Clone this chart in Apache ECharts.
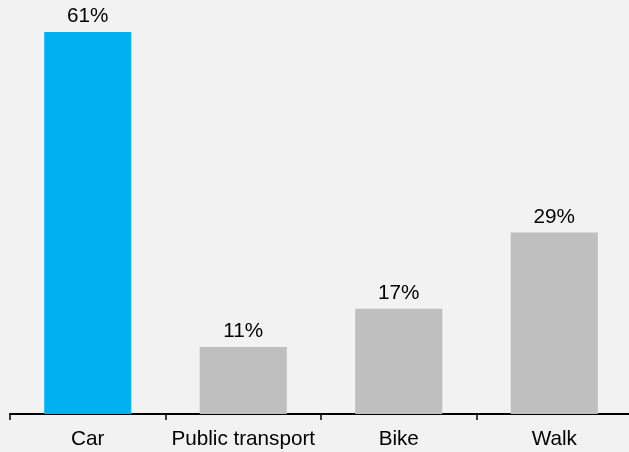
<!DOCTYPE html>
<html>
<head>
<meta charset="utf-8">
<script src="https://cdn.jsdelivr.net/npm/echarts@6/dist/echarts.min.js"></script>
<style>
  html, body { margin: 0; padding: 0; background: #f2f2f2; }
  #chart { width: 629px; height: 452px; }
</style>
</head>
<body>
<div id="chart"></div>
<script>
// share of trips by mode
var categories = ['Car', 'Public transport', 'Bike', 'Walk'];
var shares = [61, 10.7, 16.8, 29];
var barColors = ['#00b0f0', '#bfbfbf', '#bfbfbf', '#bfbfbf'];

var chart = echarts.init(document.getElementById('chart'));
var option = {
  backgroundColor: '#f2f2f2',
  animation: false,
  grid: { left: 10, width: 622, top: 32, bottom: 38, outerBoundsMode: 'none' },
  xAxis: {
    type: 'category',
    data: categories,
    axisLine: { lineStyle: { color: '#000', width: 2 } },
    axisTick: { show: true, length: 6, lineStyle: { color: '#000', width: 1.5 } },
    axisLabel: {
      color: '#000',
      fontSize: 20.7,
      fontFamily: 'Liberation Sans, Arial, sans-serif',
      margin: 15,
      interval: 0
    }
  },
  yAxis: {
    type: 'value',
    min: 0,
    max: 61,
    show: false
  },
  series: [{
    type: 'bar',
    barWidth: '56%',
    data: shares.map(function (v, i) {
      return { value: v, itemStyle: { color: barColors[i] } };
    }),
    label: {
      show: true,
      position: 'top',
      distance: 5,
      color: '#000',
      fontSize: 20.7,
      fontFamily: 'Liberation Sans, Arial, sans-serif',
      formatter: function (p) { return Math.round(p.value) + '%'; }
    }
  }]
};
chart.setOption(option);
</script>
</body>
</html>
